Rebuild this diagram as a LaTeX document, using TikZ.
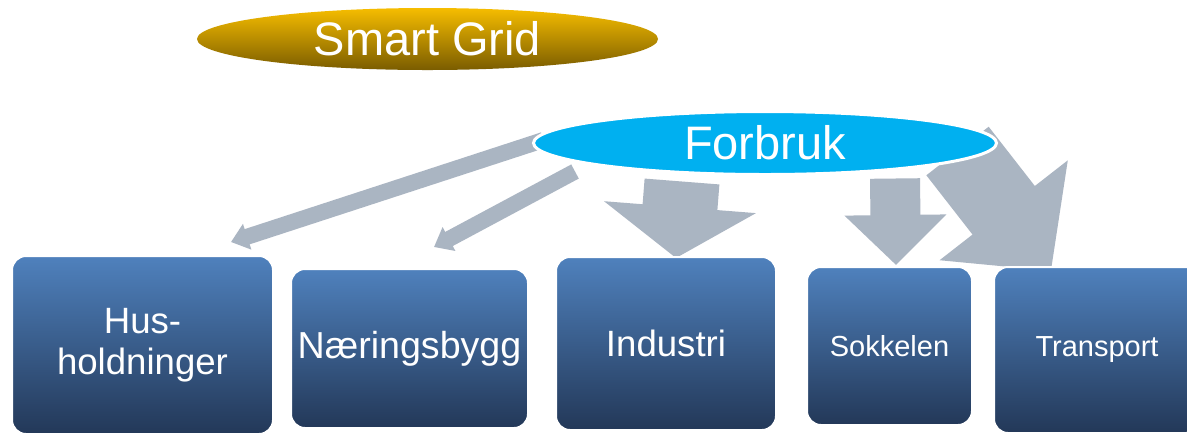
\documentclass[tikz,border=0pt]{standalone}
\usepackage{fontspec}
\setmainfont{Liberation Sans}
\usetikzlibrary{shapes.geometric,arrows.meta,calc,backgrounds}
\definecolor{sggold}{HTML}{F6BD00}
\definecolor{sgbrown}{HTML}{7A5C00}
\definecolor{fbblue}{HTML}{00B0F0}
\definecolor{boxtop}{HTML}{4F81BD}
\definecolor{boxmid}{HTML}{40679E}
\definecolor{boxbot}{HTML}{233858}
\definecolor{arrowgray}{HTML}{AAB5C2}
\tikzset{
  sector/.style={rectangle, rounded corners=7pt, draw=white, line width=1pt,
    top color=boxtop, middle color=boxmid, bottom color=boxbot, text=white,
    inner sep=0pt, align=center, font=\fontsize{18.3}{20.5}\selectfont},
  smallsector/.style={sector, font=\fontsize{14.5}{17}\selectfont},
  oval/.style={ellipse, inner xsep=0pt, inner ysep=2pt, text=white,
    font=\fontsize{23.5}{28}\selectfont},
  thinarrow/.style={draw=arrowgray, line width=8pt, -{Triangle[width=13pt,length=8.5pt]}},
  blockarrow/.style n args={3}{draw=arrowgray, line width=#1, -{Triangle[width=#2,length=#3]}}
}
\begin{document}
\begin{tikzpicture}[x=0.5pt,y=-0.5pt]
\useasboundingbox (0,0) rectangle (1187,436);
% ellipses
\node[oval, minimum width=230.5pt, minimum height=31pt, top color=sggold, bottom color=sgbrown] (sg) at (427.5,39) {Smart Grid};
\node[oval, minimum width=231.5pt, minimum height=31.5pt, fill=fbblue, draw=white, line width=1.5pt] (fb) at (765,143) {Forbruk};
% sectors
\node[sector, minimum width=130.5pt, minimum height=89pt] (hus) at (142.5,345) {Hus-\\holdninger};
\node[sector, minimum width=118.5pt, minimum height=79.5pt, font=\fontsize{18.8}{21}\selectfont] (naer) at (409.5,348.5) {Næringsbygg};
\node[sector, minimum width=110pt, minimum height=86.5pt] (ind) at (666,343.5) {Industri};
\node[smallsector, minimum width=82.5pt, minimum height=79pt] (sok) at (889.5,346) {Sokkelen};
\node[smallsector, minimum width=103pt, minimum height=83pt] (tra) at (1097,350) {Transport};
% arrows behind the shapes
\begin{scope}[on background layer]
\fill[white] (0,0) rectangle (1187,436);
\draw[thinarrow] ($(fb.west)+(11.5,-3)$) -- ($(hus.north east)+(-43,-13)$);
\draw[thinarrow] ($(fb.south)+(-190,-4.5)$) -- ($(naer.north east)+(-95,-21)$);
\draw[blockarrow={37.5pt}{75pt}{25.5pt}] ($(fb.south)+(-83,5.5)$) -- ($(ind.north)+(10,2)$);
\draw[blockarrow={25pt}{49.5pt}{25pt}] ($(fb.south)+(130,2.5)$) -- ($(sok.north)+(6.5,-1)$);
\draw[blockarrow={39.5pt}{79pt}{38.5pt}] ($(fb.east)+(-40.5,8)$) -- ($(tra.north)+(-46,5)$);
\end{scope}
\end{tikzpicture}
\end{document}
